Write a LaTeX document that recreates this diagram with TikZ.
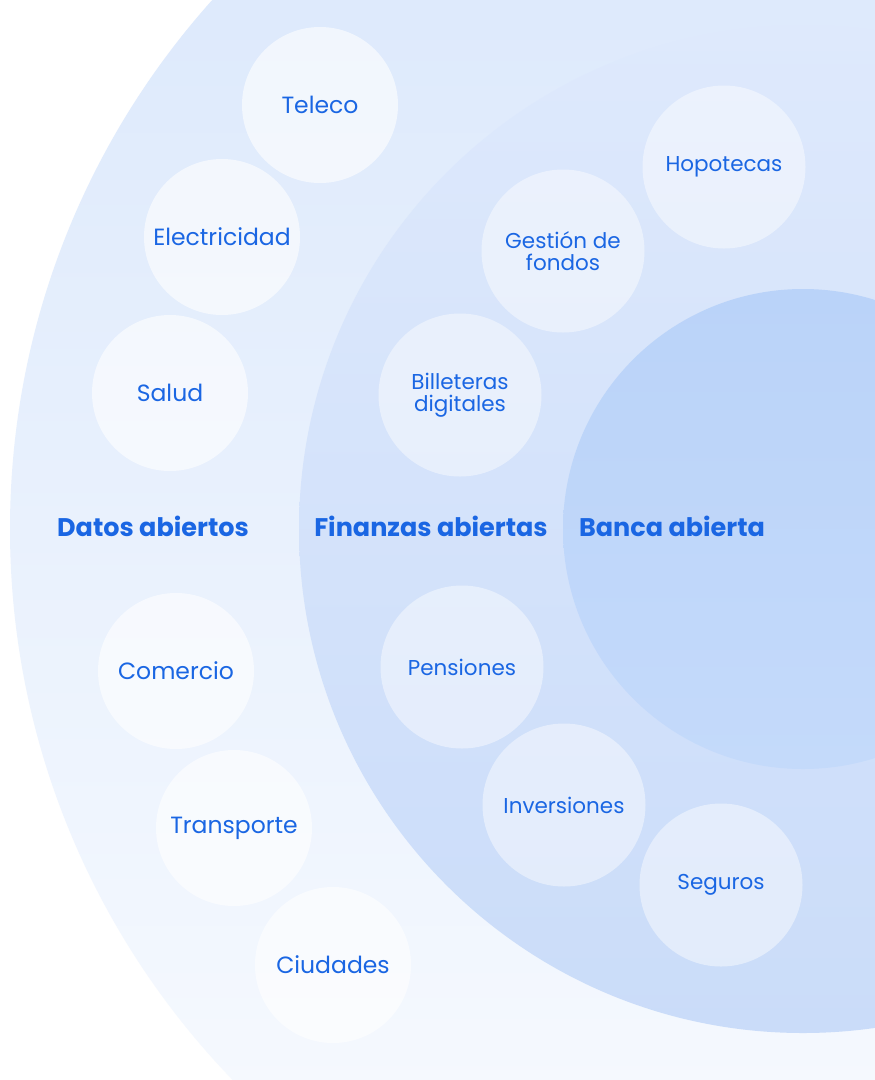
\documentclass[tikz,border=0pt]{standalone}
\usepackage{fontspec}
\setmainfont{Poppins}
\usepackage{tikz}

\definecolor{txtblue}{HTML}{1A66E3}
\definecolor{outertop}{HTML}{D8E6FB}
\definecolor{outerbot}{HTML}{FAFCFF}
\definecolor{midtop}{HTML}{DEE9FC}
\definecolor{midbot}{HTML}{CADCF9}
\definecolor{innertop}{HTML}{BAD3F9}
\definecolor{innerbot}{HTML}{C4DAFA}

\begin{document}
\begin{tikzpicture}[x=1pt,y=-1pt,
    bubble/.style={circle,fill=white,fill opacity=0.6,text opacity=1,text=txtblue,
      inner sep=0pt,minimum size=156,align=center,font=\fontsize{23.5}{25}\selectfont},
    finbubble/.style={bubble,fill opacity=0.45,minimum size=163,font=\fontsize{21.5}{22.5}\selectfont},
    ringlabel/.style={text=txtblue,font=\fontsize{25.5}{27}\selectfont\bfseries}]
  \useasboundingbox (0,0) rectangle (875,1080);
  \fill[white] (0,0) rectangle (875,1080);
  % rings
  \shade[top color=outertop,bottom color=outerbot] (803,529) circle (793);
  \shade[top color=midtop,bottom color=midbot] (803,529) circle (504);
  \shade[top color=innertop,bottom color=innerbot] (803,529) circle (240);
  % datos abiertos
  \node[bubble] (teleco) at (320,105) {Teleco};
  \node[bubble] (elec) at (222,237) {Electricidad};
  \node[bubble] (salud) at (170,393) {Salud};
  \node[bubble] (comercio) at (176,671) {Comercio};
  \node[bubble] (transp) at (234,828) {Transporte};
  \node[bubble] (ciudades) at (333,965) {Ciudades};
  % finanzas abiertas
  \node[finbubble] (hipo) at (724,167) {Hopotecas};
  \node[finbubble] (fondos) at (563,251) {Gestión de\\fondos};
  \node[finbubble] (bill) at (460,395) {Billeteras\\digitales};
  \node[finbubble] (pens) at (462,667) {Pensiones};
  \node[finbubble] (inv) at (564,805) {Inversiones};
  \node[finbubble] (seg) at (721,885) {Seguros};
  % titles
  \node[ringlabel] (datos) at (153,526) {Datos abiertos};
  \node[ringlabel] (finanzas) at (431,526) {Finanzas abiertas};
  \node[ringlabel] (banca) at (672,526) {Banca abierta};
\end{tikzpicture}
\end{document}
